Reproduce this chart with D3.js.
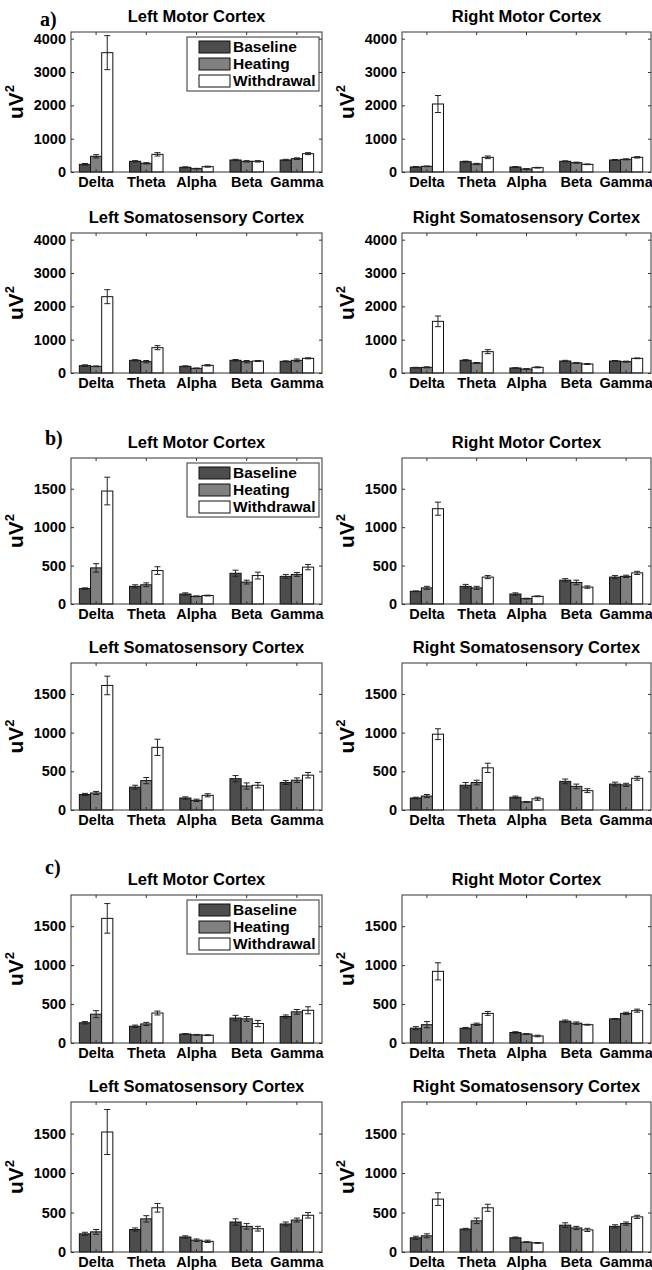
<!DOCTYPE html>
<html>
<head>
<meta charset="utf-8">
<script src="https://cdn.jsdelivr.net/npm/d3@7"></script>
<style>
    body { margin: 0; background: #fff; }
    #graph { display: block; }
</style>
</head>
<body>
<svg id="graph" width="652" height="1270"></svg>
<script>
// categories
const bands = ["Delta", "Theta", "Alpha", "Beta", "Gamma"];
const conditions = ["Baseline", "Heating", "Withdrawal"];
const regionTitles = ["Left Motor Cortex", "Right Motor Cortex", "Left Somatosensory Cortex", "Right Somatosensory Cortex"];
const sectionLabels = ["a)", "b)", "c)"];
const yMaxes = [4200, 1900, 1900];
const ticksA = [0, 1000, 2000, 3000, 4000];
const ticksBC = [0, 500, 1000, 1500];

// rows = Baseline, Heating, Withdrawal ; columns = bands
const aLeftMotorMean = [[230, 320, 140, 360, 360], [470, 260, 100, 320, 400], [3580, 530, 160, 320, 550]];
const aLeftMotorErr = [[25, 20, 15, 20, 20], [50, 20, 10, 20, 25], [510, 50, 15, 20, 30]];
const aRightMotorMean = [[150, 310, 150, 320, 360], [170, 240, 90, 280, 380], [2040, 440, 130, 230, 440]];
const aRightMotorErr = [[15, 15, 15, 15, 15], [10, 20, 10, 15, 15], [255, 40, 10, 10, 20]];
const aLeftSomaMean = [[220, 380, 200, 380, 350], [200, 340, 140, 340, 380], [2290, 760, 230, 360, 440]];
const aLeftSomaErr = [[25, 20, 15, 25, 15], [10, 35, 10, 35, 40], [210, 60, 20, 15, 15]];
const aRightSomaMean = [[160, 380, 150, 360, 360], [170, 300, 120, 300, 340], [1550, 640, 170, 270, 440]];
const aRightSomaErr = [[10, 20, 10, 20, 15], [15, 15, 10, 10, 15], [160, 60, 15, 15, 10]];

const bLeftMotorMean = [[200, 230, 130, 400, 360], [470, 250, 100, 285, 385], [1470, 435, 110, 370, 480]];
const bLeftMotorErr = [[10, 20, 15, 40, 25], [55, 25, 5, 25, 25], [180, 50, 5, 45, 35]];
const bRightMotorMean = [[165, 230, 130, 310, 350], [210, 210, 70, 280, 360], [1240, 350, 100, 220, 405]];
const bRightMotorErr = [[5, 25, 15, 20, 20], [20, 20, 5, 30, 15], [85, 20, 5, 15, 20]];
const bLeftSomaMean = [[200, 295, 155, 405, 355], [220, 380, 125, 310, 385], [1610, 810, 190, 320, 450]];
const bLeftSomaErr = [[15, 25, 15, 40, 25], [20, 40, 15, 40, 30], [120, 105, 20, 35, 35]];
const bRightSomaMean = [[155, 320, 165, 370, 335], [180, 355, 105, 305, 325], [980, 545, 145, 250, 410]];
const bRightSomaErr = [[10, 35, 15, 30, 25], [20, 30, 5, 30, 20], [70, 60, 20, 25, 25]];

const cLeftMotorMean = [[260, 215, 115, 320, 340], [370, 245, 105, 310, 400], [1600, 385, 100, 250, 420]];
const cLeftMotorErr = [[15, 15, 5, 35, 20], [45, 20, 5, 30, 30], [190, 25, 5, 40, 45]];
const cRightMotorMean = [[190, 190, 135, 280, 310], [235, 240, 115, 255, 380], [920, 380, 90, 235, 415]];
const cRightMotorErr = [[20, 10, 10, 15, 5], [40, 15, 5, 15, 15], [110, 25, 10, 5, 20]];
const cLeftSomaMean = [[230, 285, 190, 380, 355], [255, 420, 150, 325, 405], [1520, 560, 135, 295, 465]];
const cLeftSomaErr = [[20, 20, 15, 40, 25], [30, 40, 15, 35, 25], [285, 55, 15, 30, 35]];
const cRightSomaMean = [[180, 290, 180, 340, 325], [205, 395, 125, 305, 360], [670, 560, 115, 280, 445]];
const cRightSomaErr = [[20, 10, 10, 30, 20], [25, 35, 5, 20, 20], [80, 45, 5, 20, 20]];

(function (d3) {
    'use strict';

    const svg = d3.select("#graph");
    const fillColors = ["#4d4d4d", "#808080", "#ffffff"];
    const boxColor = "#333";
    const sans = "'Liberation Sans', Arial, sans-serif";

    // layout of the 2 x 6 grid of axes
    const colX = [[71, 322], [402, 651]];
    const rowY = [[32, 172], [233, 373], [458, 604], [663, 810], [895, 1043], [1102, 1252]];
    const labelPos = [[40, 26], [45, 445], [45, 874]];

    const sections = [
        {means: [aLeftMotorMean, aRightMotorMean, aLeftSomaMean, aRightSomaMean],
         errs: [aLeftMotorErr, aRightMotorErr, aLeftSomaErr, aRightSomaErr], ticks: ticksA},
        {means: [bLeftMotorMean, bRightMotorMean, bLeftSomaMean, bRightSomaMean],
         errs: [bLeftMotorErr, bRightMotorErr, bLeftSomaErr, bRightSomaErr], ticks: ticksBC},
        {means: [cLeftMotorMean, cRightMotorMean, cLeftSomaMean, cRightSomaMean],
         errs: [cLeftMotorErr, cRightMotorErr, cLeftSomaErr, cRightSomaErr], ticks: ticksBC}
    ];

    sections.forEach((s, si) => {
        svg.append("text")
            .attr("x", labelPos[si][0])
            .attr("y", labelPos[si][1])
            .style("font-family", "'Liberation Serif', 'Times New Roman', serif")
            .style("font-weight", "bold")
            .style("font-size", "20px")
            .text(sectionLabels[si]);

        for (let k = 0; k < 4; k++) {
            const col = k % 2, row = si * 2 + Math.floor(k / 2);
            drawPanel({
                left: colX[col][0], right: colX[col][1],
                top: rowY[row][0], bottom: rowY[row][1],
                yMax: yMaxes[si], ticks: s.ticks,
                mean: s.means[k], err: s.errs[k],
                title: regionTitles[k], legend: k === 0
            });
        }
    });

    function drawPanel(p) {
        const x = d3.scaleBand().domain(bands).range([p.left, p.right]);
        const y = d3.scaleLinear().domain([0, p.yMax]).range([p.bottom, p.top]);
        const groupW = x.bandwidth() * 2 / 3;
        const inner = d3.scaleBand().domain(conditions).range([-groupW / 2, groupW / 2]);
        const g = svg.append("g");

        // bars
        conditions.forEach((c, ci) => {
            g.append("g").selectAll("rect")
                .data(bands)
                .enter()
                .append("rect")
                .attr("x", b => x(b) + x.bandwidth() / 2 + inner(c))
                .attr("y", (b, i) => y(p.mean[ci][i]))
                .attr("width", inner.bandwidth())
                .attr("height", (b, i) => y(0) - y(p.mean[ci][i]))
                .style("fill", fillColors[ci])
                .style("stroke", "#111")
                .style("stroke-width", 1);
        });

        // error bars
        conditions.forEach((c, ci) => {
            const eg = g.append("g").selectAll("g")
                .data(bands)
                .enter()
                .append("g")
                .attr("transform", b => "translate(" + (x(b) + x.bandwidth() / 2 + inner(c) + inner.bandwidth() / 2) + ",0)")
                .style("stroke", "#222")
                .style("stroke-width", 1);
            eg.append("line")
                .attr("y1", (b, i) => y(p.mean[ci][i] - p.err[ci][i]))
                .attr("y2", (b, i) => y(p.mean[ci][i] + p.err[ci][i]));
            eg.append("line")
                .attr("x1", -3).attr("x2", 3)
                .attr("y1", (b, i) => y(p.mean[ci][i] + p.err[ci][i]))
                .attr("y2", (b, i) => y(p.mean[ci][i] + p.err[ci][i]));
            eg.append("line")
                .attr("x1", -3).attr("x2", 3)
                .attr("y1", (b, i) => y(p.mean[ci][i] - p.err[ci][i]))
                .attr("y2", (b, i) => y(p.mean[ci][i] - p.err[ci][i]));
        });

        // axes, ticks pointing inwards on all four sides
        const yl = g.append("g")
            .attr("transform", "translate(" + p.left + ",0)")
            .call(d3.axisLeft(y).tickValues(p.ticks).tickFormat(d3.format("d"))
                .tickSizeInner(-3).tickSizeOuter(0).tickPadding(5));
        const xb = g.append("g")
            .attr("transform", "translate(0," + p.bottom + ")")
            .call(d3.axisBottom(x).tickSizeInner(-3).tickSizeOuter(0).tickPadding(5));
        g.append("g")
            .attr("transform", "translate(" + p.right + ",0)")
            .call(d3.axisRight(y).tickValues(p.ticks).tickSizeInner(-3).tickSizeOuter(0).tickFormat(""));
        g.append("g")
            .attr("transform", "translate(0," + p.top + ")")
            .call(d3.axisTop(x).tickSizeInner(-3).tickSizeOuter(0).tickFormat(""));

        g.selectAll(".domain").remove();
        g.selectAll(".tick line").style("stroke", boxColor);
        [yl, xb].forEach(a => a.selectAll("text")
            .style("font-family", sans)
            .style("font-weight", "bold")
            .style("font-size", "14.5px")
            .style("fill", "#000"));

        g.append("rect")
            .attr("x", p.left).attr("y", p.top)
            .attr("width", p.right - p.left).attr("height", p.bottom - p.top)
            .style("fill", "none")
            .style("stroke", boxColor);

        // title
        g.append("text")
            .attr("x", (p.left + p.right) / 2)
            .attr("y", p.top - 10)
            .attr("text-anchor", "middle")
            .style("font-family", sans)
            .style("font-weight", "bold")
            .style("font-size", "16.5px")
            .text(p.title);

        // y label uV^2
        const yt = g.append("text")
            .attr("transform", "translate(" + (p.left - 48) + "," + ((p.top + p.bottom) / 2) + ") rotate(-90)")
            .attr("text-anchor", "middle")
            .style("font-family", sans)
            .style("font-weight", "bold")
            .style("font-size", "21px");
        yt.append("tspan").text("uV");
        yt.append("tspan").attr("dy", -9).style("font-size", "13px").text("2");

        if (p.legend) {
            const lw = 132, lh = 54;
            const lx = p.right - lw - 3, ly = p.top + 5;
            const lg = g.append("g").attr("transform", "translate(" + lx + "," + ly + ")");
            lg.append("rect")
                .attr("width", lw).attr("height", lh)
                .style("fill", "#fff").style("stroke", boxColor);
            const item = lg.selectAll(".item")
                .data(conditions)
                .enter()
                .append("g")
                .attr("class", "item")
                .attr("transform", (d, i) => "translate(0," + (10 + i * 17) + ")");
            item.append("rect")
                .attr("x", 12).attr("y", -6)
                .attr("width", 31).attr("height", 12)
                .style("fill", (d, i) => fillColors[i])
                .style("stroke", "#111");
            item.append("text")
                .attr("x", 46).attr("dy", "0.35em")
                .style("font-family", sans)
                .style("font-weight", "bold")
                .style("font-size", "15.5px")
                .text(d => d);
        }
    }

}(d3));
</script>
</body>
</html>
